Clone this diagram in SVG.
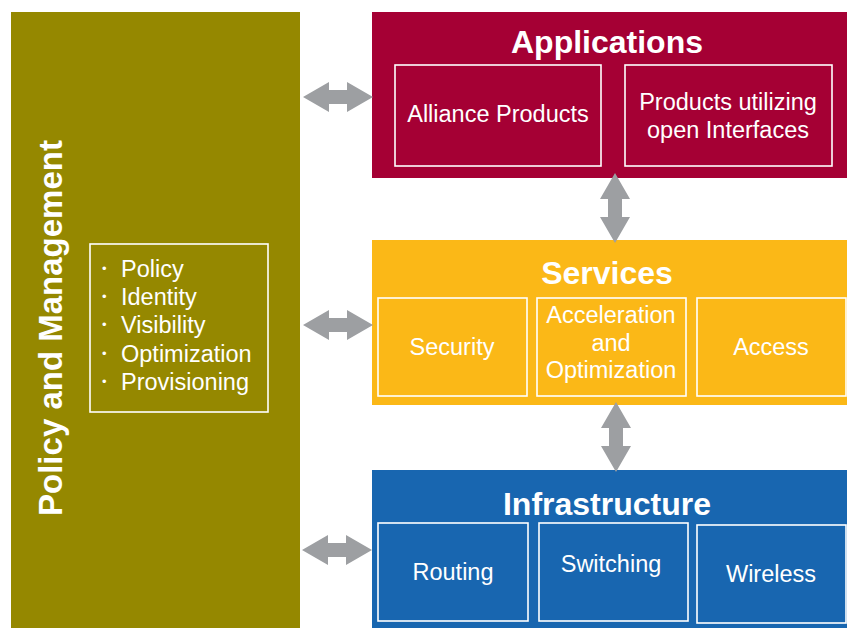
<svg xmlns="http://www.w3.org/2000/svg" xmlns:xlink="http://www.w3.org/1999/xlink" width="847" height="628" viewBox="0 0 847 628">
<style>
.box{stroke:#fff;stroke-width:1.6;fill:none}
.t{font-family:"Liberation Sans",Arial,sans-serif;fill:#fff;font-size:23.5px}
.c{text-anchor:middle}
.h{font-family:"Liberation Sans",Arial,sans-serif;fill:#fff;font-size:32px;font-weight:bold;text-anchor:middle}
.arr{fill:#9d9fa2}
.b{font-family:"Liberation Sans",Arial,sans-serif;fill:#fff;font-size:13px}
</style>
<defs>
<path id="dbl" d="M0,0 L26,-15 L26,-7 L44,-7 L44,-15 L70,0 L44,15 L44,7 L26,7 L26,15 Z"/>
</defs>
<rect width="847" height="628" fill="#fff"/>
<g id="policy">
<rect x="11" y="12" width="289" height="616" fill="#958800"/>
<text class="h" style="font-size:33px" transform="translate(62,328) rotate(-90)">Policy and Management</text>
<rect class="box" x="90" y="244" width="178" height="168"/>
<g class="b">
<text x="102" y="273">•</text>
<text x="102" y="301">•</text>
<text x="102" y="329">•</text>
<text x="102" y="358">•</text>
<text x="102" y="386">•</text>
</g>
<g class="t">
<text x="121" y="277">Policy</text>
<text x="121" y="305">Identity</text>
<text x="121" y="333">Visibility</text>
<text x="121" y="362">Optimization</text>
<text x="121" y="390">Provisioning</text>
</g>
</g>
<g id="applications">
<rect x="372" y="12" width="475" height="166" fill="#a50034"/>
<text class="h" x="607" y="53">Applications</text>
<rect class="box" x="395" y="65" width="206" height="101"/>
<text class="t c" x="498" y="122">Alliance Products</text>
<rect class="box" x="625" y="65" width="207" height="101"/>
<text class="t c" x="728" y="110">Products utilizing</text>
<text class="t c" x="728" y="138">open Interfaces</text>
</g>
<g id="services">
<rect x="372" y="240" width="475" height="165" fill="#fbb817"/>
<text class="h" x="607" y="284">Services</text>
<rect class="box" x="378" y="298" width="149" height="98"/>
<text class="t c" x="452" y="355">Security</text>
<rect class="box" x="537" y="298" width="149" height="98"/>
<text class="t c" x="611" y="323">Acceleration</text>
<text class="t c" x="611" y="351">and</text>
<text class="t c" x="611" y="378">Optimization</text>
<rect class="box" x="697" y="298" width="149" height="98"/>
<text class="t c" x="771" y="355">Access</text>
</g>
<g id="infrastructure">
<rect x="372" y="470" width="475" height="158" fill="#1866b0"/>
<text class="h" x="607" y="515">Infrastructure</text>
<rect class="box" x="378" y="523" width="150" height="98"/>
<text class="t c" x="453" y="580">Routing</text>
<rect class="box" x="539" y="523" width="149" height="98"/>
<text class="t c" x="611" y="572">Switching</text>
<rect class="box" x="697" y="525" width="149" height="98"/>
<text class="t c" x="771" y="582">Wireless</text>
</g>
<g id="connectors" class="arr">
<use xlink:href="#dbl" transform="translate(303,97)"/>
<use xlink:href="#dbl" transform="translate(303,325)"/>
<use xlink:href="#dbl" transform="translate(302,550)"/>
<use xlink:href="#dbl" transform="translate(615,173) rotate(90)"/>
<use xlink:href="#dbl" transform="translate(616,402) rotate(90)"/>
</g>
</svg>
